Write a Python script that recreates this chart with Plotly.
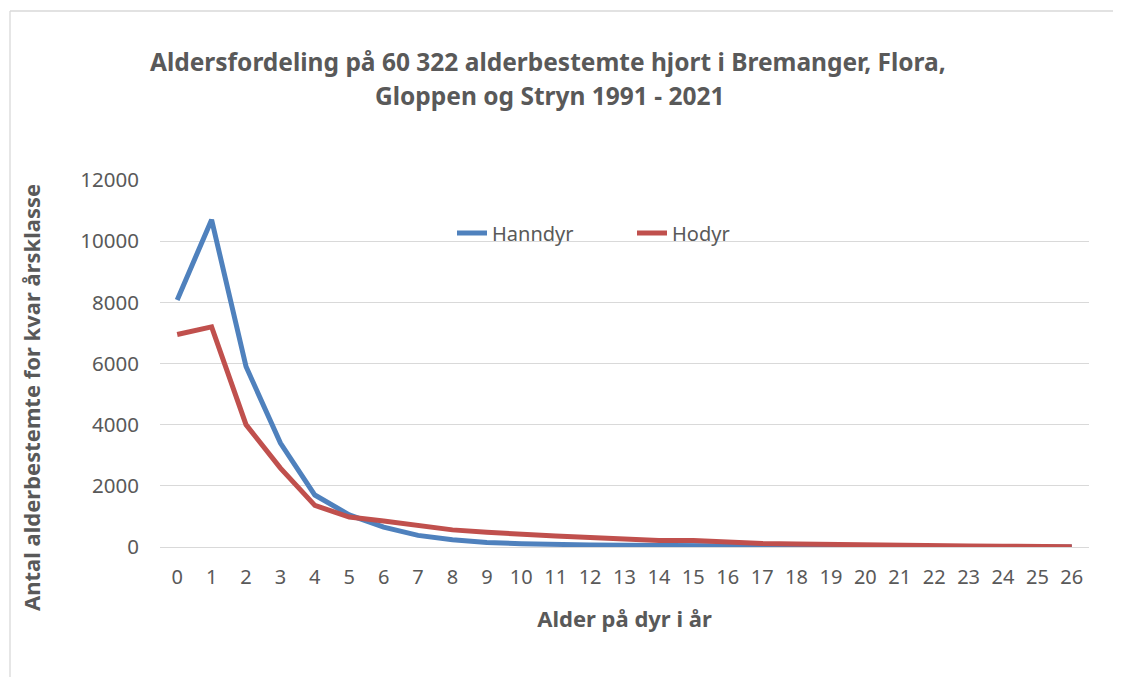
"""
aldersfordeling hjort - line chart
"""
import plotly
from plotly import graph_objects as go

ages = [str(a) for a in range(27)]
hanndyr = [8080, 10700, 5900, 3400, 1700, 1050, 650, 380, 240, 150, 110, 75, 65,
           54, 43, 43, 32, 25, 20, 15, 12, 9, 7, 5, 4, 2, 1]
hodyr = [6950, 7200, 4000, 2580, 1360, 980, 850, 700, 560, 480, 410, 357, 313,
         270, 216, 216, 160, 115, 100, 80, 60, 55, 45, 35, 25, 18, 10]

W, H = 1121, 677
OFF = 8  # page body margin of the html output
# plot area in screenshot pixels
PX0, PX1, PY0, PY1 = 160, 1089, 180, 547
ML, MT = PX0 - OFF, PY0 - OFF
MR, MB = W - (PX1 - OFF), H - (PY1 - OFF)
PW, PH = PX1 - PX0, PY1 - PY0

FONT = "Noto Sans"
GREY = "#595959"
GRID = "#d9d9d9"

fig = go.Figure()
fig.add_trace(go.Scatter(x=ages, y=hanndyr, mode="lines", name="Hanndyr",
                         line=dict(color="#4F81BD", width=5)))
fig.add_trace(go.Scatter(x=ages, y=hodyr, mode="lines", name="Hodyr",
                         line=dict(color="#C0504D", width=5)))

fig.update_layout(
    width=W, height=H, autosize=False,
    margin=dict(l=ML, r=MR, t=MT, b=MB, autoexpand=False),
    paper_bgcolor="white", plot_bgcolor="white",
    font=dict(family=FONT, color=GREY, size=20),
    showlegend=True,
    legend=dict(orientation="h", x=(452 - PX0) / PW, xanchor="left",
                y=(PY1 - 233) / PH, yanchor="middle",
                bgcolor="rgba(0,0,0,0)", font=dict(size=20, color=GREY),
                entrywidth=135, entrywidthmode="pixels"),
)

# title, two lines placed separately for Excel-like line spacing
fig.add_annotation(text="<b>Aldersfordeling på 60 322 alderbestemte hjort i Bremanger, Flora,</b>",
                   xref="paper", yref="paper", x=(548 - PX0) / PW, y=(PY1 - 61) / PH,
                   xanchor="center", yanchor="middle", showarrow=False,
                   font=dict(size=24.5, color=GREY))
fig.add_annotation(text="<b>Gloppen og Stryn 1991 - 2021</b>",
                   xref="paper", yref="paper", x=(549 - PX0) / PW, y=(PY1 - 96) / PH,
                   xanchor="center", yanchor="middle", showarrow=False,
                   font=dict(size=24.5, color=GREY))
# y axis title
fig.add_annotation(text="<b>Antal alderbestemte for kvar årsklasse</b>",
                   xref="paper", yref="paper", x=(31 - PX0) / PW, y=(PY1 - 398) / PH,
                   xanchor="center", yanchor="middle", textangle=-90, showarrow=False,
                   font=dict(size=22, color=GREY))

fig.update_xaxes(type="category", range=[-0.5, 26.5], showgrid=False, showline=False,
                 zeroline=False, ticks="", ticklabelstandoff=16,
                 tickfont=dict(size=20, color=GREY),
                 title=dict(text="<b>Alder på dyr i år</b>", standoff=22,
                            font=dict(size=22, color=GREY)))
fig.update_yaxes(range=[0, 12000], dtick=2000, tickformat="d", showgrid=True,
                 gridcolor=GRID, gridwidth=1.3, zeroline=True, zerolinecolor=GRID,
                 zerolinewidth=1.3, showline=False, ticks="", ticklabelstandoff=20,
                 tickfont=dict(size=20.5, color=GREY))

# chart area frame (left and top edge visible in the original)
fx0 = (10 - PX0) / PW
fy1 = (PY1 - 11) / PH
fig.add_shape(type="line", xref="paper", yref="paper", x0=fx0, x1=fx0, y0=-1, y1=fy1,
              line=dict(color=GRID, width=1.3))
fig.add_shape(type="line", xref="paper", yref="paper", x0=fx0, x1=2, y0=fy1, y1=fy1,
              line=dict(color=GRID, width=1.3))

fig.write_html("out.html")
